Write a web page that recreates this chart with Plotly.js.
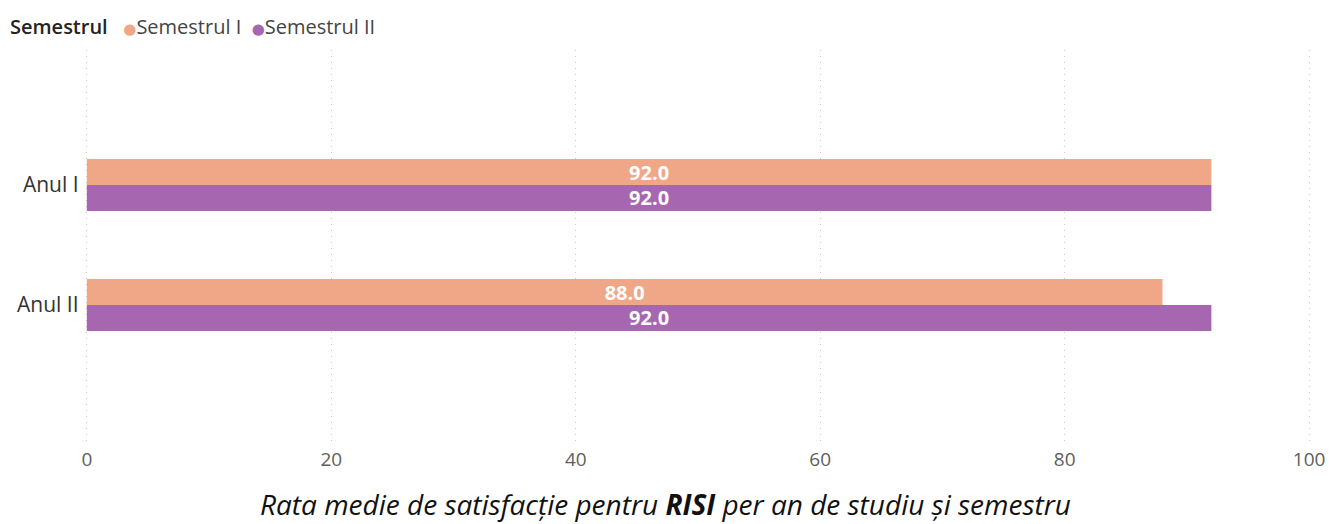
<!DOCTYPE html>
<html>
<head>
<meta charset="utf-8">
<script src="https://cdn.plot.ly/plotly-3.0.1.min.js"></script>
<style>html,body{margin:0;padding:0;background:#fff;}#chart{width:1329px;height:524px;}</style>
</head>
<body>
<div id="chart"></div>
<script>
var categories = ["Anul I", "Anul II"];
var seriesNames = ["Semestrul I", "Semestrul II"];
var legendTitle = "Semestrul";
var chartTitle = "Rata medie de satisfacție pentru <b>RISI</b> per an de studiu și semestru";
var sem1 = [92.0, 88.0];
var sem2 = [92.0, 92.0];
var xTicks = [0, 20, 40, 60, 80, 100];
var colors = ["#EFA787", "#A666B0"];

function barTrace(vals, name, color) {
  return {
    type: "bar", orientation: "h", y: categories, x: vals, name: name,
    marker: {color: color}, showlegend: false,
    text: vals.map(function(v){return v.toFixed(1);}),
    textposition: "inside", insidetextanchor: "middle", constraintext: "none",
    textfont: {family: "Open Sans", size: 20, color: "#ffffff", weight: "bold"},
    hoverinfo: "none", cliponaxis: false
  };
}
var data = [barTrace(sem1, seriesNames[0], colors[0]), barTrace(sem2, seriesNames[1], colors[1])];

var legendText = "<span style='font-weight:600;color:#252423'>" + legendTitle + "</span>&nbsp;&nbsp;&nbsp;" +
  seriesNames.map(function(n, i){
    return "<span style='color:" + colors[i] + ";font-family:DejaVu Sans;font-size:15px'>●</span><span style='color:#444'>" + n + "</span>";
  }).join("&nbsp;&nbsp;");

var layout = {
  width: 1329, height: 524,
  margin: {l: 85, r: 18, t: 50, b: 78},
  paper_bgcolor: "#fff", plot_bgcolor: "#fff",
  barmode: "group", bargap: 0.567, bargroupgap: 0,
  font: {family: "Open Sans", color: "#333"},
  showlegend: false,
  annotations: [{
    text: legendText, xref: "paper", yref: "paper", x: -0.0626, y: 1.0,
    xanchor: "left", yanchor: "bottom", yshift: 8, showarrow: false,
    font: {family: "Open Sans", size: 20, color: "#444"}
  }, {
    text: chartTitle, xref: "paper", yref: "paper", x: 0.4735, y: 0,
    xanchor: "center", yanchor: "top", yshift: -37, showarrow: false,
    font: {family: "Open Sans", size: 28, color: "#111", style: "italic"}
  }],
  xaxis: {range: [-0.15, 100.15], tickvals: xTicks, ticktext: xTicks.map(String),
    showgrid: true, gridcolor: "#c9c9c9", griddash: "1px,5px", gridwidth: 1,
    zeroline: false, showline: false, ticks: "",
    tickfont: {family: "Open Sans", size: 19, color: "#605E5C"},
    fixedrange: true},
  yaxis: {type: "category", categoryorder: "array", categoryarray: categories,
    range: [2.175, -1.125], showgrid: false, zeroline: false, showline: false, ticks: "",
    ticksuffix: " ",
    tickfont: {family: "Open Sans", size: 21, color: "#333"}, fixedrange: true}
};
Plotly.newPlot("chart", data, layout, {displayModeBar: false, staticPlot: true});
</script>
</body>
</html>
